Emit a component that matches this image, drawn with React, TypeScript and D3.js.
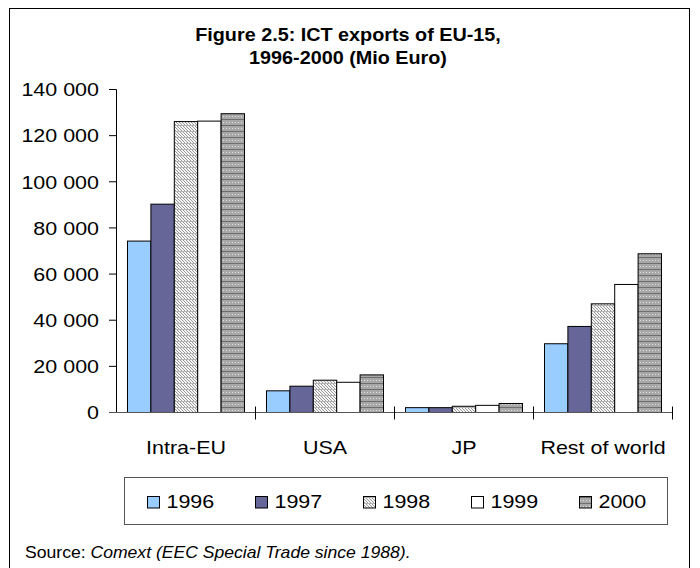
import React, { useEffect, useRef } from 'react'
import * as d3 from 'd3'

const categories = ['Intra-EU', 'USA', 'JP', 'Rest of world']
const years = ['1996', '1997', '1998', '1999', '2000']
const exports1996 = [74300, 9400, 2100, 29800]
const exports1997 = [90300, 11400, 2100, 37300]
const exports1998 = [126100, 14000, 2700, 47100]
const exports1999 = [126300, 13100, 3100, 55500]
const exports2000 = [129500, 16300, 3900, 68800]
const yTicks = [0, 20000, 40000, 60000, 80000, 100000, 120000, 140000]

const series = [exports1996, exports1997, exports1998, exports1999, exports2000]
const fills = ['#99ccff', '#666699', 'url(#hatch98)', '#ffffff', 'url(#grid00)']

const FONT = '"Liberation Sans", Arial, sans-serif'
// the picture's text is a bit wider than plain Arial
const STRETCH = 1.13

const App = () => {
    const ref = useRef<SVGSVGElement>(null)

    useEffect(() => {
        const svg = d3.select(ref.current)
        svg.selectAll('*').remove()

        const defs = svg.append('defs')
        const hatch = defs.append('pattern').attr('id', 'hatch98')
            .attr('patternUnits', 'userSpaceOnUse').attr('width', 6).attr('height', 6)
        hatch.append('rect').attr('width', 6).attr('height', 6).attr('fill', '#f6f6f6')
        hatch.append('path').attr('d', 'M-6,0L0,6M-3,0L3,6M0,0L6,6M3,0L9,6')
            .attr('stroke', '#8c8c8c').attr('stroke-width', 0.9)
        hatch.append('rect').attr('x', 0).attr('y', 5).attr('width', 6).attr('height', 1).attr('fill', '#b4b4b4')

        const grid = defs.append('pattern').attr('id', 'grid00')
            .attr('patternUnits', 'userSpaceOnUse').attr('width', 6).attr('height', 6)
        grid.append('rect').attr('width', 6).attr('height', 6).attr('fill', '#a8a8a8')
        grid.append('rect').attr('x', 1).attr('y', 2).attr('width', 1).attr('height', 1).attr('fill', '#e0e0e0')
        grid.append('rect').attr('x', 4).attr('y', 2).attr('width', 1).attr('height', 1).attr('fill', '#e0e0e0')
        grid.append('rect').attr('x', 0).attr('y', 5).attr('width', 6).attr('height', 1).attr('fill', '#6e6e6e')

        const text = (x: number, y: number, str: string, anchor: string, size: number, stretch = STRETCH) =>
            svg.append('text')
                .attr('transform', `translate(${x},${y}) scale(${stretch},1)`)
                .attr('text-anchor', anchor)
                .attr('font-family', FONT)
                .attr('font-size', size)
                .attr('fill', '#000')
                .text(str)

        // outer frame
        svg.append('rect')
            .attr('x', 9.5).attr('y', 8.5).attr('width', 680).attr('height', 600)
            .attr('fill', 'none').attr('stroke', '#000')

        // title
        text(348, 41, 'Figure 2.5: ICT exports of EU-15,', 'middle', 18, 1.1).attr('font-weight', 'bold')
        text(348, 64, '1996-2000 (Mio Euro)', 'middle', 18, 1.1).attr('font-weight', 'bold')

        var x = d3.scaleBand().domain(categories).range([116.5, 672.5])
        var xi = d3.scaleBand().domain(years).range([0, x.bandwidth()]).paddingOuter(0.47)
        var y = d3.scaleLinear().domain([0, 140000]).range([412.5, 89.5])

        // y axis
        svg.append('line')
            .attr('x1', 116.5).attr('x2', 116.5).attr('y1', y(0)).attr('y2', y(140000))
            .attr('stroke', '#000')
        yTicks.forEach(t => {
            svg.append('line')
                .attr('x1', 109).attr('x2', 116.5).attr('y1', y(t)).attr('y2', y(t))
                .attr('stroke', '#000')
            text(99, y(t) + 6.8, d3.format(',')(t).replace(/,/g, ' '), 'end', 19)
        })

        // bars
        series.forEach((vals, i) => {
            svg.append('g').selectAll('rect')
                .data(vals)
                .enter()
                .append('rect')
                .attr('x', (d, j) => x(categories[j])! + xi(years[i])!)
                .attr('y', d => y(d))
                .attr('width', xi.bandwidth())
                .attr('height', d => y(0) - y(d))
                .attr('fill', fills[i])
                .attr('stroke', '#000')
                .attr('stroke-width', 1)
        })

        // x axis
        svg.append('line')
            .attr('x1', 109).attr('x2', 672.5).attr('y1', y(0)).attr('y2', y(0))
            .attr('stroke', '#555')
        categories.forEach((c, j) => {
            if (j > 0) {
                svg.append('line')
                    .attr('x1', x(c)).attr('x2', x(c)).attr('y1', y(0) - 6).attr('y2', y(0) + 7)
                    .attr('stroke', '#000')
            }
            text(x(c)! + x.bandwidth() / 2, 454, c, 'middle', 19)
        })
        svg.append('line')
            .attr('x1', 672.5).attr('x2', 672.5).attr('y1', y(0) - 6).attr('y2', y(0) + 7)
            .attr('stroke', '#000')

        // legend
        svg.append('rect')
            .attr('x', 124.5).attr('y', 477.5).attr('width', 543).attr('height', 47)
            .attr('fill', '#fff').attr('stroke', '#555')
        var lx = d3.scaleBand().domain(years).range([147.5, 147.5 + 540])
        years.forEach((yr, i) => {
            svg.append('rect')
                .attr('x', lx(yr)).attr('y', 496.5).attr('width', 12).attr('height', 11.5)
                .attr('fill', fills[i]).attr('stroke', '#000')
            text(lx(yr)! + 19, 508, yr, 'start', 19)
        })

        // source
        const src = text(25, 558, 'Source: ', 'start', 16, 1.1)
        src.append('tspan').attr('font-style', 'italic').text('Comext (EEC Special Trade since 1988).')
    })

    return (
        <svg ref={ref} width={700} height={568}
            style={{ position: 'absolute', left: 0, top: 0, background: '#fff' }} />
    )
}

export default App
